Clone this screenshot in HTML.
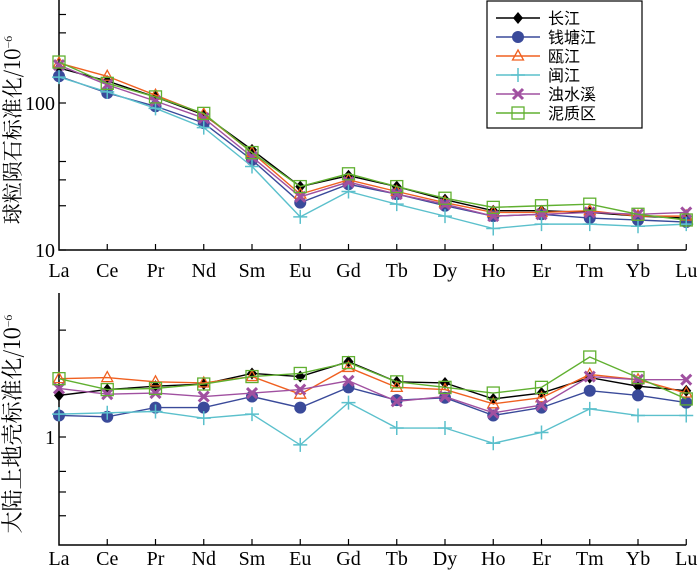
<!DOCTYPE html>
<html><head><meta charset="utf-8"><style>body{margin:0;background:#fff}svg{display:block;font-family:"Liberation Serif","Noto Serif CJK SC",serif}</style></head>
<body>
<svg id="c" width="700" height="574" viewBox="0 0 700 574"></svg>
<script>
const categories=["La","Ce","Pr","Nd","Sm","Eu","Gd","Tb","Dy","Ho","Er","Tm","Yb","Lu"];
const seriesNames=["长江","钱塘江","瓯江","闽江","浊水溪","泥质区"];
const topChangjiang=[173,141,110,83,48,27,32,27,22,18.5,18.5,18,17,16.5];
const topQiantang=[152,117,95,73,41,21,28,24,20,17,17.5,16.5,16,15.5];
const topOujiang=[187,152,113,84,46,24,30,25,21,18,18,18.5,17,17];
const topMinjiang=[150,119,92,68,37,16.8,25,20.5,17,14,15,15,14.5,15];
const topZhuoshui=[181,133,103,79,43,23,29,24,20.5,17,17.5,18,17.5,18];
const topMud=[190,136,110,85,46,27,33,27,22.5,19.5,20,20.5,17.5,16];
const botChangjiang=[1.31,1.36,1.39,1.41,1.51,1.48,1.63,1.43,1.42,1.28,1.33,1.47,1.39,1.35];
const botQiantang=[1.15,1.14,1.21,1.21,1.30,1.21,1.38,1.27,1.29,1.15,1.21,1.35,1.31,1.25];
const botOujiang=[1.46,1.47,1.43,1.42,1.48,1.32,1.57,1.38,1.36,1.24,1.29,1.50,1.45,1.33];
const botMinjiang=[1.16,1.17,1.18,1.13,1.16,0.95,1.25,1.06,1.06,0.96,1.03,1.20,1.15,1.15];
const botZhuoshui=[1.37,1.32,1.33,1.30,1.33,1.36,1.44,1.26,1.30,1.17,1.23,1.48,1.45,1.45];
const botMud=[1.46,1.36,1.37,1.41,1.48,1.51,1.62,1.43,1.38,1.33,1.38,1.68,1.47,1.28];
const topTicks=[10,100];
const topMinor=[20,30,40,300,400];
const botTicks=[1];
const botMinor=[0.6,0.7,0.8,2];
const colors=["#000000","#3a4a9a","#f06020","#5bc0cc","#a050a0","#60b030"];
const markers=["diamond","circle","triangle","plus","cross","square"];
const svg=document.getElementById('c');
const NS="http://www.w3.org/2000/svg";
function mk(t,a,p){const e=document.createElementNS(NS,t);for(const k in a)e.setAttribute(k,a[k]);(p||svg).appendChild(e);return e;}
const x0=59,dx=48.25;
function xs(i){return x0+i*dx;}
function yTop(v){return 250-147*Math.log10(v/10);}
function yBot(v){return 437-355*Math.log10(v);}
function marker(g,type,x,y,col){
  let e;
  if(type=="diamond")e=mk('polygon',{points:`${x},${y-6} ${x+5},${y} ${x},${y+6} ${x-5},${y}`,fill:col},g);
  else if(type=="circle")e=mk('circle',{cx:x,cy:y,r:6,fill:col},g);
  else if(type=="triangle")e=mk('polygon',{points:`${x},${y-6} ${x+5.5},${y+4} ${x-5.5},${y+4}`,fill:"none",stroke:col,"stroke-width":1.3},g);
  else if(type=="plus")e=mk('path',{d:`M${x-7},${y}H${x+7}M${x},${y-7}V${y+7}`,stroke:col,"stroke-width":1.5},g);
  else if(type=="cross")e=mk('path',{d:`M${x-5},${y-5}L${x+5},${y+5}M${x+5},${y-5}L${x-5},${y+5}`,stroke:col,"stroke-width":3},g);
  else e=mk('rect',{x:x-6,y:y-6,width:12,height:12,fill:"none",stroke:col,"stroke-width":1.3},g);
  
  
}
function panel(name,yTopPx,yBotPx,yf,ticks,minor,data,title,labY,tfs){
  const g=mk('g',{});
  
  
  const ax=mk('path',{d:`M${x0},${yTopPx}V${yBotPx}H${xs(13)}`,stroke:"#000","stroke-width":1.5,fill:"none"},g);
  
  
  categories.forEach((c,i)=>{
    if(i>0)mk('line',{x1:xs(i),x2:xs(i),y1:yBotPx,y2:yBotPx-6,stroke:"#000","stroke-width":1.2},g);
    const t=mk('text',{x:xs(i),y:labY,"text-anchor":"middle","font-size":20},g);t.textContent=c;
    
    
  });
  ticks.forEach(v=>{const y=yf(v);mk('line',{x1:x0,x2:x0+7,y1:y,y2:y,stroke:"#000","stroke-width":1.2},g);
    const t=mk('text',{x:x0-4,y:y+7,"text-anchor":"end","font-size":20},g);t.textContent=v;
    
    });
  minor.forEach(v=>{const y=yf(v);mk('line',{x1:x0,x2:x0+7,y1:y,y2:y,stroke:"#000","stroke-width":1.2},g);});
  const tt=mk('text',{transform:`translate(20,${(yTopPx+yBotPx)/2+5}) rotate(-90)`,"text-anchor":"middle","font-size":tfs,"font-family":"'Noto Serif CJK SC','Noto Sans CJK SC',serif"},g);
  tt.innerHTML=title+'/10<tspan dy="-8" font-size="11">−6</tspan>';
  
  
  data.forEach((arr,s)=>{
    const sg=mk('g',{},g);
    
    
    const l=mk('polyline',{points:arr.map((v,i)=>xs(i)+','+yf(v)).join(' '),fill:"none",stroke:colors[s],"stroke-width":1.4},sg);
    
    
    arr.forEach((v,i)=>marker(sg,markers[s],xs(i),yf(v),colors[s]));
  });
}
panel('top-panel',0,250,yTop,topTicks,topMinor,[topChangjiang,topQiantang,topOujiang,topMinjiang,topZhuoshui,topMud],'球粒陨石标准化',277,21);
panel('bottom-panel',293,545,yBot,botTicks,botMinor,[botChangjiang,botQiantang,botOujiang,botMinjiang,botZhuoshui,botMud],'大陆上地壳标准化',565,22);
const lg=mk('g',{});


mk('rect',{x:487,y:1,width:155,height:127,fill:"#fff",stroke:"#000","stroke-width":1.2},lg);
seriesNames.forEach((n,i)=>{
  const y=18+i*19;
  const eg=mk('g',{},lg);
  
  
  mk('line',{x1:496,x2:540,y1:y,y2:y,stroke:colors[i],"stroke-width":1.4},eg);
  marker(eg,markers[i],518,y,colors[i]);
  const t=mk('text',{x:548,y:y+6,"font-size":16,"font-family":"'Noto Sans CJK SC',sans-serif"},eg);t.textContent=n;
});
</script>
</body></html>
